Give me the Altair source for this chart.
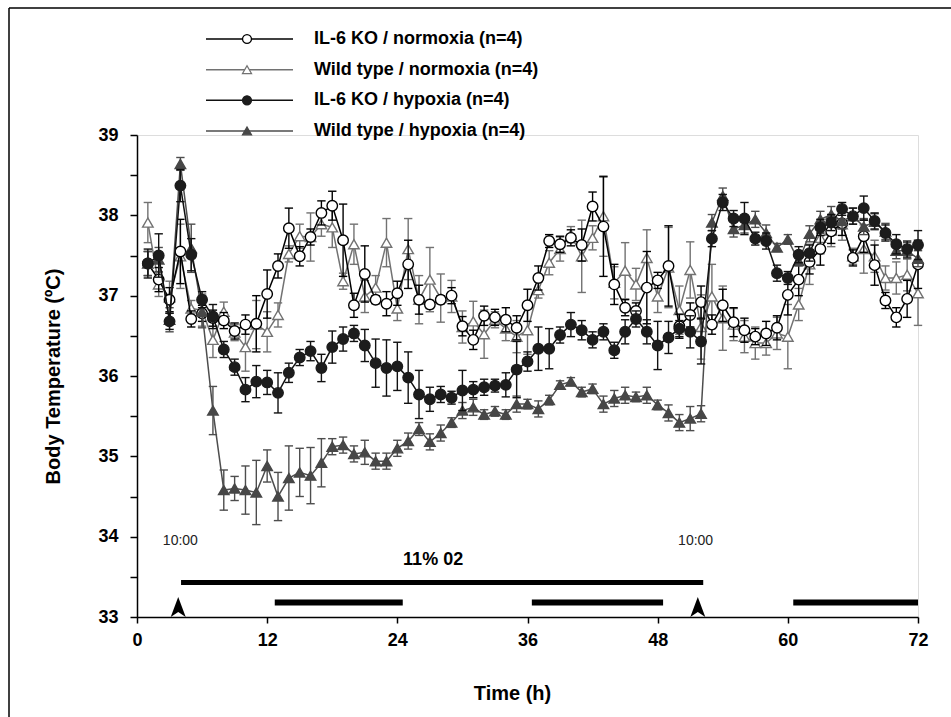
import altair as alt
import pandas as pd

hours = list(range(1, 73))

series_names = [
    "IL-6 KO / normoxia (n=4)",
    "Wild type / normoxia (n=4)",
    "IL-6 KO / hypoxia (n=4)",
    "Wild type / hypoxia (n=4)",
]

ko_norm = [37.40, 37.20, 36.95, 37.55, 36.71, 36.78, 36.72, 36.69, 36.56, 36.64, 36.65, 37.02,
           37.37, 37.84, 37.49, 37.73, 38.03, 38.12, 37.69, 36.88, 37.27, 36.95, 36.90, 37.03,
           37.39, 36.95, 36.89, 36.95, 37.00, 36.62, 36.45, 36.75, 36.73, 36.70, 36.60, 36.88,
           37.22, 37.68, 37.64, 37.72, 37.63, 38.11, 37.86, 37.14, 36.85, 36.81, 37.10, 37.19,
           37.37, 36.62, 36.76, 36.92, 36.64, 36.88, 36.67, 36.57, 36.49, 36.53, 36.60, 37.01,
           37.20, 37.42, 37.58, 37.80, 37.90, 37.47, 37.74, 37.38, 36.94, 36.73, 36.96, 37.39]
ko_norm_err = [.15, .15, .15, .40, .10, .10, .10, .10, .10, .12, .35, .30,
               .15, .25, .12, .10, .15, .18, .45, .15, .35, .05, .15, .15,
               .30, .18, .05, .05, .10, .12, .12, .12, .10, .15, .15, .20,
               .15, .08, .10, .10, .20, .18, .62, .25, .10, .10, .45, .10,
               .50, .15, .15, .20, .12, .20, .18, .15, .10, .15, .15, .25,
               .20, .15, .20, .15, .15, .10, .20, .25, .10, .12, .23, .30]

wt_norm = [37.91, 37.14, 36.98, 37.49, 36.84, 36.82, 36.45, 36.80, 36.54, 36.36, 36.64, 36.55,
           36.76, 37.52, 37.74, 37.73, 37.89, 37.85, 37.18, 37.64, 36.99, 37.10, 37.66, 36.84,
           37.58, 36.95, 37.20, 36.97, 36.99, 36.61, 36.68, 36.52, 36.70, 36.59, 36.49, 36.57,
           37.07, 37.41, 37.58, 37.76, 37.49, 37.72, 37.99, 37.16, 37.31, 37.14, 37.47, 36.99,
           37.35, 36.82, 37.32, 36.61, 36.99, 36.72, 36.64, 36.49, 36.41, 36.41, 36.53, 36.49,
           36.89, 37.39, 37.72, 37.81, 37.89, 37.49, 37.58, 37.49, 37.22, 37.22, 37.26, 37.03]
wt_norm_err = [.25, .15, .20, .40, .10, .20, .22, .12, .10, .30, .30, .25,
               .15, .10, .15, .30, .15, .25, .10, .25, .20, .15, .30, .15,
               .38, .30, .40, .30, .20, .20, .25, .30, .10, .15, .20, .30,
               .10, .15, .15, .10, .45, .15, .50, .20, .35, .20, .35, .20,
               .50, .30, .35, .40, .40, .40, .20, .20, .20, .15, .20, .40,
               .20, .25, .20, .20, .20, .10, .30, .20, .15, .20, .20, .40]

ko_hyp = [37.40, 37.50, 36.68, 38.37, 37.51, 36.95, 36.74, 36.33, 36.11, 35.83, 35.93, 35.92,
          35.79, 36.04, 36.23, 36.31, 36.10, 36.36, 36.46, 36.53, 36.38, 36.16, 36.10, 36.12,
          35.98, 35.77, 35.71, 35.77, 35.73, 35.82, 35.83, 35.86, 35.88, 35.89, 36.08, 36.18,
          36.34, 36.34, 36.51, 36.64, 36.57, 36.45, 36.55, 36.32, 36.55, 36.71, 36.55, 36.38,
          36.48, 36.59, 36.55, 36.43, 37.71, 38.16, 37.96, 37.96, 37.71, 37.68, 37.28, 37.22,
          37.51, 37.53, 37.85, 37.91, 38.08, 37.99, 38.09, 37.93, 37.78, 37.64, 37.58, 37.63]
ko_hyp_err = [.18, .27, .10, .20, .20, .10, .15, .10, .10, .15, .20, .15,
              .25, .12, .10, .12, .17, .20, .15, .10, .20, .30, .35, .30,
              .32, .30, .15, .10, .08, .25, .10, .10, .08, .15, .35, .12,
              .27, .25, .10, .15, .12, .10, .10, .10, .15, .10, .15, .30,
              .20, .10, .20, .28, .10, .10, .10, .20, .08, .10, .10, .08,
              .10, .10, .10, .10, .08, .10, .15, .10, .10, .12, .10, .18]

wt_hyp = [37.40, 37.45, 36.70, 38.64, 37.59, 36.80, 35.57, 34.58, 34.60, 34.58, 34.55, 34.88,
          34.50, 34.73, 34.80, 34.76, 34.92, 35.12, 35.14, 35.03, 35.05, 34.94, 34.94, 35.10,
          35.19, 35.34, 35.18, 35.29, 35.42, 35.57, 35.61, 35.52, 35.56, 35.52, 35.65, 35.65,
          35.59, 35.70, 35.89, 35.93, 35.80, 35.84, 35.65, 35.72, 35.76, 35.74, 35.76, 35.64,
          35.54, 35.42, 35.47, 35.53, 37.91, 38.24, 37.83, 37.88, 37.95, 37.78, 37.60, 37.70,
          37.43, 37.77, 37.95, 38.01, 37.93, 37.99, 37.86, 37.92, 37.80, 37.56, 37.56, 37.46]
wt_hyp_err = [.15, .15, .15, .08, .30, .20, .30, .25, .15, .30, .40, .20,
              .30, .40, .30, .35, .30, .10, .10, .10, .15, .10, .10, .10,
              .10, .08, .10, .10, .06, .10, .10, .06, .06, .06, .10, .06,
              .10, .06, .05, .05, .06, .06, .10, .10, .10, .06, .10, .06,
              .10, .10, .15, .10, .10, .10, .10, .10, .10, .10, .05, .06,
              .06, .10, .10, .10, .10, .10, .10, .10, .10, .10, .10, .10]

# annotation values (in data units)
light_labels = ["10:00", "10:00"]
light_label_h = [4.0, 51.5]
light_label_t = [33.94, 33.94]
arrow_h = [3.8, 51.7]
arrow_t = [33.126, 33.126]
hypoxia_start = [4.06]
hypoxia_end = [52.2]
hypoxia_level = [33.43]
dark_start = [12.7, 36.4, 60.5]
dark_end = [24.5, 48.5, 72.0]
dark_level = [33.18, 33.18, 33.18]
o2_label = ["11% 02"]
o2_h = [27.3]
o2_t = [33.71]

FONT = "Liberation Sans"

styles = {
    series_names[0]: dict(data=(ko_norm, ko_norm_err), shape="circle", line="#000000", fill="#ffffff", stroke="#000000"),
    series_names[1]: dict(data=(wt_norm, wt_norm_err), shape="triangle-up", line="#727272", fill="#ffffff", stroke="#727272"),
    series_names[2]: dict(data=(ko_hyp, ko_hyp_err), shape="circle", line="#111111", fill="#1c1c1c", stroke="#1c1c1c"),
    series_names[3]: dict(data=(wt_hyp, wt_hyp_err), shape="triangle-up", line="#4d4d4d", fill="#474747", stroke="#474747"),
}

xscale = alt.Scale(domain=[0, 72], nice=False, zero=False)
yscale = alt.Scale(domain=[33, 39], nice=False, zero=False)

x_axis = alt.Axis(values=[0, 12, 24, 36, 48, 60, 72], title="Time (h)", grid=False, format="d",
                  tickSize=6, tickWidth=1.5, domainWidth=1.5, domainColor="black", tickColor="black",
                  labelFont=FONT, labelFontSize=18, labelFontWeight="bold", labelColor="black",
                  labelPadding=8, labelFlush=False,
                  titleFont=FONT, titleFontSize=20, titleFontWeight="bold", titleColor="black",
                  titleX=375, titleY=76, titleBaseline="middle", titleAlign="center")
y_axis = alt.Axis(values=[33 + 0.5 * i for i in range(13)], title="Body Temperature (ºC)", grid=False,
                  labelExpr="datum.value % 1 == 0 ? format(datum.value, 'd') : ''",
                  tickSize=7, tickWidth=1.5, domainWidth=1.5, domainColor="black", tickColor="black",
                  labelFont=FONT, labelFontSize=18, labelFontWeight="bold", labelColor="black",
                  labelPadding=12, labelFlush=False,
                  titleFont=FONT, titleFontSize=20, titleFontWeight="bold", titleColor="black",
                  titleX=-84, titleY=241, titleAngle=-90, titleBaseline="middle", titleAlign="center")


def X(field):
    return alt.X(field, scale=xscale, axis=x_axis)


def Y(field):
    return alt.Y(field, scale=yscale, axis=y_axis)


draw_order = [series_names[1], series_names[0], series_names[3], series_names[2]]

layers = []
for name in draw_order:
    st = styles[name]
    vals, errs = st["data"]
    df = pd.DataFrame({"h": hours, "t": vals, "err": errs})
    df["lo"] = df["t"] - df["err"]
    df["hi"] = df["t"] + df["err"]
    base = alt.Chart(df)
    err = base.mark_rule(color=st["line"], strokeWidth=1.4).encode(x=X("h:Q"), y=Y("lo:Q"), y2="hi:Q")
    cap_lo = base.mark_point(shape="stroke", size=70, color=st["line"], strokeWidth=1.4, opacity=1).encode(
        x=X("h:Q"), y=Y("lo:Q"))
    cap_hi = base.mark_point(shape="stroke", size=70, color=st["line"], strokeWidth=1.4, opacity=1).encode(
        x=X("h:Q"), y=Y("hi:Q"))
    line = base.mark_line(color=st["line"], strokeWidth=1.5).encode(x=X("h:Q"), y=Y("t:Q"))
    pts = base.mark_point(shape=st["shape"], size=110, fill=st["fill"], stroke=st["stroke"],
                          filled=False, fillOpacity=1, opacity=1, strokeWidth=1.4).encode(
        x=X("h:Q"), y=Y("t:Q"))
    layers += [err, cap_lo, cap_hi, line, pts]

# annotations
bars_long = alt.Chart(pd.DataFrame({"s": hypoxia_start, "e": hypoxia_end, "lv": hypoxia_level})).mark_rule(
    color="black", strokeWidth=5, strokeCap="butt").encode(x=X("s:Q"), x2="e:Q", y=Y("lv:Q"))
bars_dark = alt.Chart(pd.DataFrame({"s": dark_start, "e": dark_end, "lv": dark_level})).mark_rule(
    color="black", strokeWidth=6, strokeCap="butt").encode(x=X("s:Q"), x2="e:Q", y=Y("lv:Q"))
arrows = alt.Chart(pd.DataFrame({"h": arrow_h, "t": arrow_t})).mark_point(
    shape="M0,-1L0.75,1L0,0.5L-0.75,1Z", size=400, filled=True, color="black", opacity=1).encode(
    x=X("h:Q"), y=Y("t:Q"))
light_txt = alt.Chart(pd.DataFrame({"h": light_label_h, "t": light_label_t, "lab": light_labels})).mark_text(
    font=FONT, fontSize=14, color="#222222", baseline="middle", align="center").encode(
    x=X("h:Q"), y=Y("t:Q"), text="lab:N")
o2_txt = alt.Chart(pd.DataFrame({"h": o2_h, "t": o2_t, "lab": o2_label})).mark_text(
    font=FONT, fontSize=18, fontWeight="bold", color="black", baseline="middle", align="center").encode(
    x=X("h:Q"), y=Y("t:Q"), text="lab:N")

# frame (left and top edges of the figure)
frame_top = alt.Chart(pd.DataFrame({"a": [0]})).mark_rule(color="black", strokeWidth=1.5).encode(
    x=alt.value(-128), x2=alt.value(814), y=alt.value(-127))
frame_left = alt.Chart(pd.DataFrame({"a": [0]})).mark_rule(color="black", strokeWidth=1.5).encode(
    x=alt.value(-128), y=alt.value(-127), y2=alt.value(582))

main = alt.layer(*layers, bars_long, bars_dark, arrows, light_txt, o2_txt, frame_top, frame_left)

# legend (custom, line + marker)
leg_layers = []
lscale = alt.Scale(domain=[0, 3], range=[-96, -4])
for i, name in enumerate(series_names):
    st = styles[name]
    ldf = pd.DataFrame({"row": [i], "name": [name]})
    lb = alt.Chart(ldf)
    ly = alt.Y("row:Q", scale=lscale, axis=None)
    leg_layers.append(lb.mark_rule(color=st["line"], strokeWidth=1.5).encode(
        x=alt.value(69), x2=alt.value(156), y=ly))
    leg_layers.append(lb.mark_point(shape=st["shape"], size=80, fill=st["fill"], stroke=st["stroke"],
                                    filled=False, fillOpacity=1, opacity=1, strokeWidth=1.3).encode(
        x=alt.value(110), y=ly))
    leg_layers.append(lb.mark_text(font=FONT, fontSize=18, fontWeight="bold", color="black",
                                   align="left", baseline="middle").encode(
        x=alt.value(177), y=ly, text="name:N"))
legend = alt.layer(*leg_layers)

chart = alt.layer(main, legend).resolve_scale(y="independent").properties(
    width=781, height=482,
    autosize=alt.AutoSizeParams(type="none"),
    padding={"left": 137, "top": 135, "right": 33, "bottom": 100},
).configure_view(strokeWidth=0, stroke="transparent").configure(background="white")

chart.save("out.html", embed_options={"renderer": "svg", "actions": False})
